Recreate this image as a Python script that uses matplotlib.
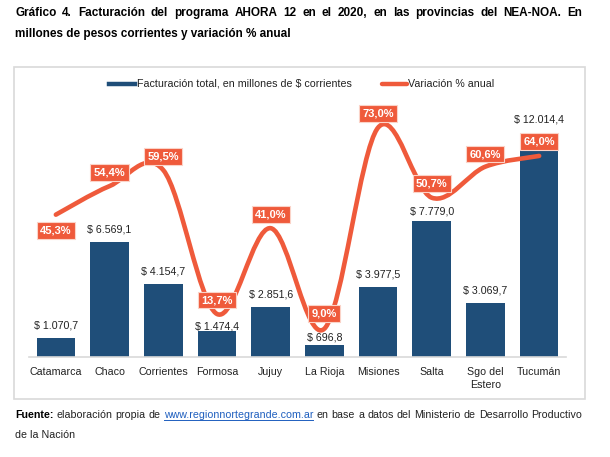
import numpy as np
import matplotlib
matplotlib.use("Agg")
import matplotlib.pyplot as plt
from matplotlib.path import Path
from matplotlib.patches import PathPatch, Rectangle
from matplotlib.lines import Line2D

plt.rcParams['font.family'] = ['Liberation Sans', 'DejaVu Sans']

provincias = ["Catamarca", "Chaco", "Corrientes", "Formosa", "Jujuy",
              "La Rioja", "Misiones", "Salta", "Sgo del\nEstero", "Tucumán"]
facturacion = [1070.7, 6569.1, 4154.7, 1474.4, 2851.6,
               696.8, 3977.5, 7779.0, 3069.7, 12014.4]
variacion = [45.3, 54.4, 59.5, 13.7, 41.0, 9.0, 73.0, 50.7, 60.6, 64.0]

BLUE = "#1f4e79"
RED = "#ef5a3b"
W, H = 610, 457

def fmt_num(v):
    s = f"{v:,.1f}"
    return s.replace(",", "X").replace(".", ",").replace("X", ".")

fig = plt.figure(figsize=(W / 100, H / 100), dpi=100)

# chart frame
fig.patches.append(Rectangle((14 / W, 1 - 399 / H), (585 - 14) / W, (399 - 67) / H,
                             transform=fig.transFigure, fill=False,
                             edgecolor="#d9d9d9", linewidth=1.2))

ax = fig.add_axes([29 / W, 1 - 357 / H, (566 - 29) / W, 257 / H])
x = np.arange(len(provincias))
ax.bar(x, facturacion, width=0.72, color=BLUE, zorder=2)
ax.set_xlim(-0.5, len(provincias) - 0.5)
ax.set_ylim(0, 14700)
for s in ["top", "left", "right"]:
    ax.spines[s].set_visible(False)
ax.spines["bottom"].set_color("#d9d9d9")
ax.spines["bottom"].set_linewidth(1.2)
ax.set_yticks([])
ax.set_xticks(x)
ax.set_xticklabels(provincias, fontsize=7.7, color="#222222")
ax.tick_params(axis="x", length=0, pad=7)
for t in ax.get_xticklabels():
    t.set_linespacing(1.35)

bar_off = [9, 9, 9, 3.5, 9, 5, 9, 6.5, 9, 19.5]
for xi, v, off in zip(x, facturacion, bar_off):
    ax.annotate("$ " + fmt_num(v), (xi, v), xytext=(0, off), textcoords="offset points",
                ha="center", va="center", fontsize=7.7, color="#222222")

ax2 = ax.twinx()
ax2.set_ylim(0, 81.8)
ax2.axis("off")

# smooth line through the points (Catmull-Rom as cubic Bezier)
pts = np.column_stack([x, variacion]).astype(float)
ext = np.vstack([pts[0], pts, pts[-1]])
verts = [tuple(pts[0])]
codes = [Path.MOVETO]
for i in range(len(pts) - 1):
    p0, p1, p2, p3 = ext[i], ext[i + 1], ext[i + 2], ext[i + 3]
    c1 = p1 + (p2 - p0) / 6
    c2 = p2 - (p3 - p1) / 6
    verts += [tuple(c1), tuple(c2), tuple(p2)]
    codes += [Path.CURVE4] * 3
ax2.add_patch(PathPatch(Path(verts, codes), facecolor="none", edgecolor=RED,
                        linewidth=3.3, capstyle="round", joinstyle="round", zorder=3))

pct_off = [-11.5, 10, 10, 10, 10, 11, 10, 10, 9, 10.5]
for xi, v, off in zip(x, variacion, pct_off):
    ax2.annotate(fmt_num(v) + "%", (xi, v), xytext=(0, off), textcoords="offset points",
                 ha="center", va="center", fontsize=8, fontweight="bold", color="white",
                 bbox=dict(boxstyle="square,pad=0.3", facecolor=RED,
                           edgecolor="#fbd3c8", linewidth=0.8), zorder=5)

# legend
ly = 1 - 84 / H
fig.add_artist(Line2D([109 / W, 135 / W], [ly, ly], color=BLUE, linewidth=3.2,
                      transform=fig.transFigure))
fig.text(137 / W, ly, "Facturación total, en millones de $ corrientes", fontsize=7.7,
         va="center", ha="left", color="#222222")
fig.add_artist(Line2D([382 / W, 407 / W], [ly, ly], color=RED, linewidth=3.2,
                      solid_capstyle="round", transform=fig.transFigure))
fig.text(408 / W, ly, "Variación % anual", fontsize=7.7, va="center", ha="left",
         color="#222222")

renderer = fig.canvas.get_renderer()

def justify(parts, y, x0, x1, size):
    # parts: list of (word, props); words spread across x0..x1 (pixels)
    texts = []
    for word, props in parts:
        t = fig.text(0, 1 - y / H, word, fontsize=size, va="center", ha="left", **props)
        texts.append(t)
    widths = [t.get_window_extent(renderer).width for t in texts]
    gap = (x1 - x0 - sum(widths)) / (len(texts) - 1)
    xp = x0
    for t, w in zip(texts, widths):
        t.set_x(xp / W)
        xp += w + gap
    return texts

title1 = "Gráfico 4. Facturación del programa AHORA 12 en el 2020, en las provincias del NEA-NOA. En"
justify([(w, dict(fontweight="bold", color="black")) for w in title1.split()],
        13, 15, 582, 8.5)
fig.text(15 / W, 1 - 34 / H, "millones de pesos corrientes y variación % anual",
         fontsize=8.5, fontweight="bold", va="center", ha="left", color="black")

src = [("Fuente:", dict(fontweight="bold", color="black"))]
for w in "elaboración propia de".split():
    src.append((w, dict(color="#222222")))
src.append(("www.regionnortegrande.com.ar", dict(color="#1f5fbf")))
for w in "en base a datos del Ministerio de Desarrollo Productivo".split():
    src.append((w, dict(color="#222222")))
texts = justify(src, 415, 15, 582, 7.7)
url = texts[4]
bb = url.get_window_extent(renderer)
uy = bb.y0 + 0.5
fig.add_artist(Line2D([bb.x0 / W, bb.x1 / W], [uy / H, uy / H], color="#1f5fbf",
                      linewidth=0.7, transform=fig.transFigure))
fig.text(15 / W, 1 - 435 / H, "de la Nación", fontsize=7.7, va="center", ha="left",
         color="#222222")

fig.savefig("out.png", dpi=100)
